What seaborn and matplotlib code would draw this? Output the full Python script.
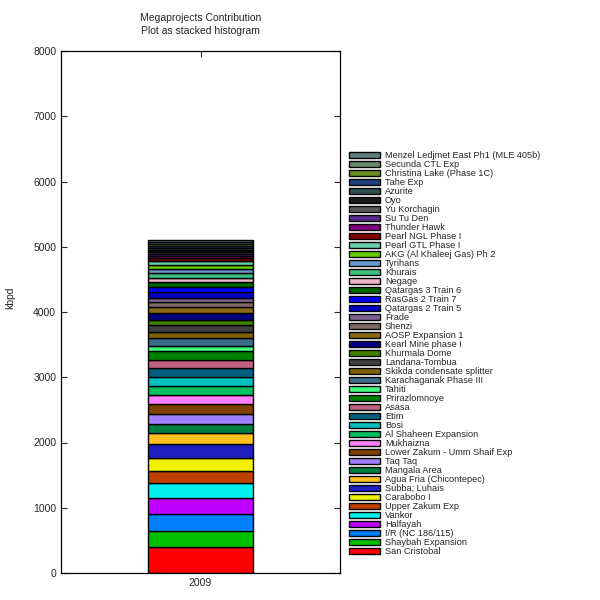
import pandas as pd
import matplotlib
matplotlib.use("Agg")
import matplotlib.pyplot as plt
from matplotlib.patches import Patch
import seaborn as sns

# legend order, top of the stack first
PROJECTS = [
    "Menzel Ledjmet East Ph1 (MLE 405b)", "Secunda CTL Exp", "Christina Lake (Phase 1C)",
    "Tahe Exp", "Azurite", "Oyo", "Yu Korchagin", "Su Tu Den", "Thunder Hawk",
    "Pearl NGL Phase I", "Pearl GTL Phase I", "AKG (Al Khaleej Gas) Ph 2", "Tyrihans",
    "Khurais", "Negage", "Qatargas 3 Train 6", "RasGas 2 Train 7", "Qatargas 2 Train 5",
    "Frade", "Shenzi", "AOSP Expansion 1", "Kearl Mine phase I", "Khurmala Dome",
    "Landana-Tombua", "Skikda condensate splitter", "Karachaganak Phase III", "Tahiti",
    "Prirazlomnoye", "Asasa", "Etim", "Bosi", "Al Shaheen Expansion", "Mukhaizna",
    "Lower Zakum - Umm Shaif Exp", "Taq Taq", "Mangala Area", "Agua Fria (Chicontepec)",
    "Subba; Luhais", "Carabobo I", "Upper Zakum Exp", "Vankor", "Halfayah",
    "I/R (NC 186/115)", "Shaybah Expansion", "San Cristobal",
]
KBPD = [
    30, 30, 30, 30, 30, 30, 30, 30, 40,
    45, 60, 60, 60,
    80, 60, 75, 80, 80,
    60, 90, 80, 110, 80,
    110, 90, 115, 90,
    125, 130, 130, 140, 140, 140,
    150, 150, 140, 180,
    200, 200, 190, 230, 240,
    260, 250, 400,
]
COLORS = [
    "#5f7f7f", "#688868", "#6b8e23", "#204080", "#2f4f4f", "#1a1a1a", "#5a5a5a",
    "#5a2a8a", "#800080", "#800000", "#66cdaa", "#66cc00", "#6699cc", "#3cc080",
    "#ecb4c4", "#006400", "#0000ff", "#0000c8", "#806090", "#806868", "#8b6914",
    "#000080", "#408000", "#404040", "#806000", "#3c6e8c", "#40ff80", "#008000",
    "#c06080", "#006080", "#00c0c0", "#00c060", "#ff80ff", "#804000", "#a080ff",
    "#008040", "#ffc020", "#2020c0", "#f0f000", "#c04000", "#00f0f0", "#c000ff",
    "#0080ff", "#00c000", "#ff0000",
]
YEAR = 2009

df = pd.DataFrame({"project": PROJECTS, "kbpd": KBPD})
df["year"] = 0

sns.set_style("ticks")
plt.rcParams["font.family"] = ["Liberation Sans", "DejaVu Sans"]

fig = plt.figure(figsize=(6, 6), dpi=100)
ax = fig.add_axes([0.1017, 0.045, 0.465, 0.87])

sns.histplot(data=df, x="year", weights="kbpd", hue="project", hue_order=PROJECTS,
             palette=COLORS, multiple="stack", discrete=True, shrink=0.75,
             edgecolor="black", linewidth=1, alpha=1, legend=False, ax=ax)

ax.set_xlim(-1, 1)
ax.set_ylim(0, 8000)
ax.set_xticks([0])
ax.set_xticklabels([str(YEAR)])
ax.set_yticks(range(0, 8001, 1000))
ax.set_xlabel("")
ax.set_ylabel("kbpd", fontsize=7.5)
ax.yaxis.set_label_coords(-0.165, 0.527)
ax.tick_params(direction="in", labelsize=7.5, top=True, right=True, length=4, width=0.8)
for s in ax.spines.values():
    s.set_linewidth(0.9)
    s.set_color("black")

ax.set_title("Megaprojects Contribution\nPlot as stacked histogram", fontsize=7.5,
             pad=12, linespacing=1.4)

handles = [Patch(facecolor=c, edgecolor="black", linewidth=1) for c in COLORS]
leg = ax.legend(handles, PROJECTS, loc="upper left", bbox_to_anchor=(1.02, 0.815),
                frameon=False, fontsize=6.6, handlelength=3.3, handleheight=0.55,
                labelspacing=0.0, handletextpad=0.6, borderaxespad=0)

fig.savefig("out.png", dpi=100)
